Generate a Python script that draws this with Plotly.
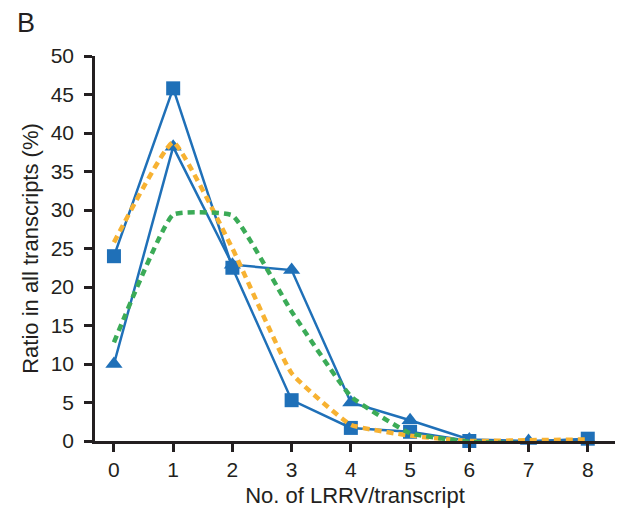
import plotly.graph_objects as go

x_vals = [0, 1, 2, 3, 4, 5, 6, 7, 8]
squares = [24.0, 45.8, 22.5, 5.3, 1.7, 1.2, 0.0, -0.1, 0.3]
triangles = [10.0, 38.2, 22.9, 22.2, 5.0, 2.7, 0.2, 0.0, 0.2]
orange_vals = [25.8, 38.8, 25.0, 8.8, 2.1, 0.7, 0.0, 0.1, 0.2]
green_vals = [12.8, 29.4, 29.3, 16.8, 5.8, 1.0, -0.1, -0.3, -0.5]

x_ticks = [0, 1, 2, 3, 4, 5, 6, 7, 8]
y_ticks = [0, 5, 10, 15, 20, 25, 30, 35, 40, 45, 50]

BLUE = "#1f70b8"
ORANGE = "#f7b232"
GREEN = "#3bab57"
AXIS = "#231f20"
FONT = "Liberation Sans, Arial, sans-serif"

fig = go.Figure()
fig.add_trace(go.Scatter(x=x_vals, y=triangles, mode="lines+markers",
                         line=dict(color=BLUE, width=2.5),
                         marker=dict(symbol="triangle-up", size=15, color=BLUE),
                         cliponaxis=False, showlegend=False))
fig.add_trace(go.Scatter(x=x_vals, y=squares, mode="lines+markers",
                         line=dict(color=BLUE, width=2.5),
                         marker=dict(symbol="square", size=14, color=BLUE),
                         cliponaxis=False, showlegend=False))
fig.add_trace(go.Scatter(x=x_vals, y=orange_vals, mode="lines",
                         line=dict(color=ORANGE, width=4.5, dash="7px,5px",
                                   shape="spline", smoothing=0.35),
                         showlegend=False))
fig.add_trace(go.Scatter(x=x_vals, y=green_vals, mode="lines",
                         line=dict(color=GREEN, width=4.5, dash="7px,5px",
                                   shape="spline", smoothing=0.35),
                         showlegend=False))

fig.update_layout(
    width=621, height=520,
    margin=dict(l=95, r=6, t=56, b=79),
    paper_bgcolor="white", plot_bgcolor="white",
    font=dict(family=FONT, size=21, color=AXIS),
    xaxis=dict(range=[-0.32, 8.46], tickmode="array", tickvals=x_ticks,
               ticktext=[str(t) for t in x_ticks],
               showgrid=False, zeroline=False, showline=True, linecolor=AXIS,
               linewidth=2.5, ticks="outside", ticklen=8, tickwidth=2.5,
               tickcolor=AXIS, tickfont=dict(size=21),
               title=dict(text="No. of LRRV/transcript", font=dict(size=22), standoff=8)),
    yaxis=dict(range=[0, 50], tickmode="array", tickvals=y_ticks,
               ticktext=[str(t) for t in y_ticks],
               showgrid=False, zeroline=False, showline=True, linecolor=AXIS,
               linewidth=2.5, ticks="outside", ticklen=8, tickwidth=2.5,
               tickcolor=AXIS, tickfont=dict(size=21), ticklabelstandoff=6,
               title=dict(text="Ratio in all transcripts (%)", font=dict(size=22), standoff=6)),
    annotations=[dict(text="B", xref="paper", yref="paper", x=0, y=1,
                      xshift=-80, yshift=33, showarrow=False,
                      xanchor="left", yanchor="middle",
                      font=dict(size=27, color=AXIS))],
)

fig.write_html("out.html")
